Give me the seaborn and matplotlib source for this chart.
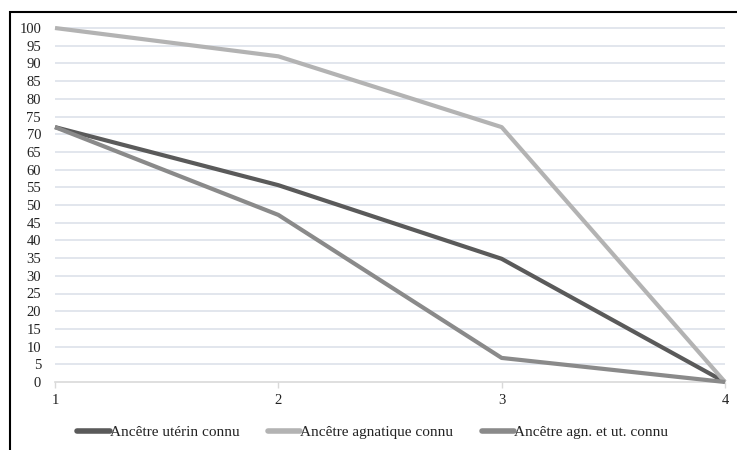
import numpy as np
import pandas as pd
import matplotlib
matplotlib.use('Agg')
import matplotlib.pyplot as plt
import seaborn as sns
from matplotlib.patches import Rectangle

# données du graphique
generations = [1, 2, 3, 4]
uterin = [72, 55.6, 34.8, 0]
agnatique = [100, 92, 72, 0]
agn_ut = [72, 47.2, 6.8, 0]
series_names = ['Ancêtre utérin connu', 'Ancêtre agnatique connu', 'Ancêtre agn. et ut. connu']
series_colors = ['#5a5a5a', '#b3b3b3', '#8a8a8a']

df = pd.DataFrame({
    'gen': generations * 3,
    'val': uterin + agnatique + agn_ut,
    'serie': [series_names[0]] * 4 + [series_names[1]] * 4 + [series_names[2]] * 4,
})

sns.set_theme(style='white')
plt.rcParams['font.family'] = ['Liberation Serif', 'DejaVu Serif']

fig = plt.figure(figsize=(7.37, 4.5), dpi=100)
ax = fig.add_axes([55 / 737, 1 - 382 / 450, 670 / 737, 354 / 450])

sns.lineplot(data=df, x='gen', y='val', hue='serie', hue_order=series_names,
             palette=dict(zip(series_names, series_colors)), linewidth=3,
             ax=ax, legend=False)

ax.set_xlim(1, 4)
ax.set_ylim(0, 100)
ax.set_yticks(np.arange(0, 101, 5))
ax.set_xticks(generations)
ax.set_xticklabels([str(g) for g in generations])
ax.set_xlabel('')
ax.set_ylabel('')

# quadrillage
for v in np.arange(5, 101, 5):
    ax.axhline(v, color='#dde2ea', lw=1.2, zorder=0)

for s in ['top', 'right', 'left']:
    ax.spines[s].set_visible(False)
ax.spines['bottom'].set_color('#d9d9d9')
ax.spines['bottom'].set_linewidth(1.2)
ax.spines['bottom'].set_zorder(0)

ax.tick_params(axis='y', length=0, pad=10, labelsize=10.5, labelcolor='#222222')
ax.tick_params(axis='x', length=4, width=1, color='#d9d9d9', direction='out',
               pad=5, labelsize=10.5, labelcolor='#222222', bottom=True)
for lbl in ax.get_yticklabels():
    lbl.set_horizontalalignment('right')
for line in ax.lines:
    line.set_clip_on(False)
    line.set_solid_capstyle('butt')

# légende
handles = [plt.Line2D([], [], color=c, lw=4) for c in series_colors]
fig.legend(handles, series_names, loc='center', bbox_to_anchor=(0.506, 1 - 432 / 450),
           ncol=3, frameon=False, fontsize=11, handlelength=2.1, handletextpad=0.0,
           columnspacing=1.9, labelcolor='#222222')

# cadre
fig.patches.append(Rectangle((10 / 737, -0.2), 2, 1.2 - 12 / 450, transform=fig.transFigure,
                             fill=False, edgecolor='black', lw=1.5, clip_on=False))

fig.savefig('out.png', dpi=100)
